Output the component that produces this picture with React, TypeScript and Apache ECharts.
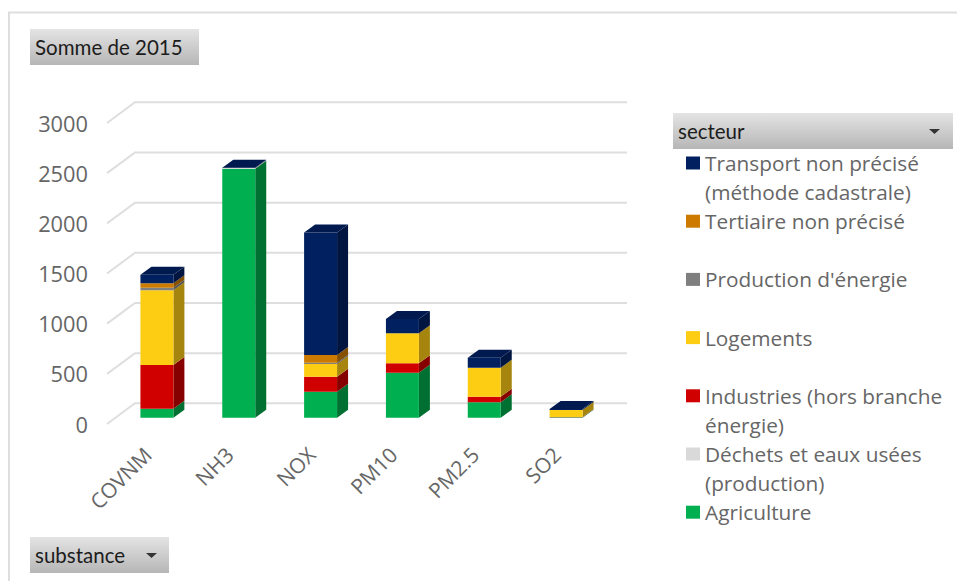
import React, { useEffect, useRef } from "react";
import * as echarts from "echarts";

const categories = ["COVNM", "NH3", "NOX", "PM10", "PM2.5", "SO2"];
const tickValues = [0, 500, 1000, 1500, 2000, 2500, 3000];

const agriculture = [90, 2480, 259, 449, 153, 5];
const dechets = [0, 8, 0, 0, 0, 0];
const industries = [435, 0, 150, 93, 56, 2];
const logements = [745, 0, 126, 299, 290, 70];
const production = [25, 0, 13, 0, 0, 0];
const tertiaire = [45, 0, 76, 0, 0, 0];
const transport = [85, 2, 1221, 143, 99, 10];

const sectors = [
  { name: "Agriculture", values: agriculture, color: "#00b050", side: "#007032" },
  { name: "Déchets et eaux usées\n(production)", values: dechets, color: "#d9d9d9", side: "#8f8f8f" },
  { name: "Industries (hors branche\nénergie)", values: industries, color: "#d00000", side: "#860000" },
  { name: "Logements", values: logements, color: "#fdcd14", side: "#a5850d" },
  { name: "Production d'énergie", values: production, color: "#7f7f7f", side: "#525252" },
  { name: "Tertiaire non précisé", values: tertiaire, color: "#cc7a00", side: "#855000" },
  { name: "Transport non précisé\n(méthode cadastrale)", values: transport, color: "#002060", side: "#001540" },
];

const BUTTON_FONT = "Lato";
const FONT = "Open Sans";
const DEPTH_BAR_X = 11;
const DEPTH_BAR_Y = 8;
const DEPTH_WALL_X = 28;
const DEPTH_WALL_Y = 20.7;

function button(x: number, y: number, w: number, label: string, arrowX?: number) {
  const els: any[] = [
    {
      type: "rect",
      shape: { x, y, width: w, height: 36 },
      style: {
        fill: new echarts.graphic.LinearGradient(0, 0, 0, 1, [
          { offset: 0, color: "#e4e4e4" },
          { offset: 1, color: "#b6b6b6" },
        ]),
      },
    },
    {
      type: "text",
      x: x + 5,
      y: y + 18,
      style: { text: label, fontFamily: BUTTON_FONT, fontSize: 20.5, fill: "#1c1c1c", verticalAlign: "middle" },
    },
  ];
  if (arrowX !== undefined) {
    els.push({
      type: "polygon",
      shape: { points: [[arrowX, y + 16], [arrowX + 11, y + 16], [arrowX + 5.5, y + 21]] },
      style: { fill: "#333333" },
    });
  }
  return els;
}

function legendItems() {
  const els: any[] = [];
  const top = 163;
  const step = 58.2;
  [...sectors].reverse().forEach((s, i) => {
    const y = top + step * i;
    els.push({
      type: "rect",
      shape: { x: 686, y: y - 6.5, width: 14, height: 13 },
      style: { fill: s.color },
    });
    els.push({
      type: "text",
      x: 705,
      y: y - 14.5,
      style: { text: s.name, fontFamily: FONT, fontSize: 20.8, lineHeight: 29, fill: "#666666", verticalAlign: "top" },
    });
  });
  return els;
}

export default function App() {
  const ref = useRef<HTMLDivElement>(null);
  useEffect(() => {
    const chart = echarts.init(ref.current!, undefined, { renderer: "svg" });

    const bases = categories.map(() => 0);
    const barSeries = sectors.map((s, si) => {
      const data = s.values.map((v, i) => {
        const start = bases[i];
        bases[i] += v;
        return [i, start, start + v];
      });
      const isTop = si === sectors.length - 1;
      return {
        type: "custom",
        name: s.name.replace("\n", " "),
        xAxisIndex: 0,
        yAxisIndex: 0,
        data,
        z: 3 + si,
        encode: { x: 0, y: [1, 2] },
        renderItem: (_p: any, api: any) => {
          const c = api.value(0);
          const a = api.coord([c, api.value(1)]);
          const b = api.coord([c, api.value(2)]);
          const w = api.size([1, 0])[0] * 0.403;
          const x0 = a[0] - w / 2;
          const x1 = a[0] + w / 2;
          const children: any[] = [];
          if (api.value(2) > api.value(1)) {
            children.push({
              type: "polygon",
              shape: { points: [[x1, a[1]], [x1 + DEPTH_BAR_X, a[1] - DEPTH_BAR_Y], [x1 + DEPTH_BAR_X, b[1] - DEPTH_BAR_Y], [x1, b[1]]] },
              style: { fill: s.side },
            });
            children.push({
              type: "rect",
              shape: { x: x0, y: b[1], width: w, height: a[1] - b[1] },
              style: { fill: s.color },
            });
          }
          if (isTop) {
            children.push({
              type: "polygon",
              shape: { points: [[x0, b[1]], [x1, b[1]], [x1 + DEPTH_BAR_X, b[1] - DEPTH_BAR_Y], [x0 + DEPTH_BAR_X, b[1] - DEPTH_BAR_Y]] },
              style: { fill: "#001a50" },
            });
          }
          return { type: "group", children };
        },
      };
    });

    const wallSeries = {
      type: "custom",
      name: "grille",
      xAxisIndex: 1,
      yAxisIndex: 1,
      silent: true,
      z: 1,
      data: tickValues.map((v) => [v]),
      encode: { y: 0 },
      renderItem: (_p: any, api: any) => {
        const v = api.value(0);
        const p = api.coord([0, v]);
        const q = api.coord([1, v]);
        return {
          type: "polyline",
          shape: { points: [p, [p[0] + DEPTH_WALL_X, p[1] - DEPTH_WALL_Y], [q[0], q[1] - DEPTH_WALL_Y]] },
          style: { stroke: "#dedede", lineWidth: 2, fill: "none" },
        };
      },
    };

    chart.setOption({
      animation: false,
      backgroundColor: "#ffffff",
      textStyle: { fontFamily: FONT },
      grid: [
        { left: 116, top: 116.7, width: 491, height: 301, containLabel: false },
        { left: 107, top: 123, width: 520, height: 301, containLabel: false },
      ],
      xAxis: [
        {
          type: "category",
          gridIndex: 0,
          data: categories,
          axisLine: { show: false },
          axisTick: { show: false },
          axisLabel: { rotate: 45, margin: 24, interval: 0, padding: [0, 13, 0, 0], fontFamily: FONT, fontSize: 21, color: "#666666" },
        },
        { type: "value", gridIndex: 1, min: 0, max: 1, show: false },
      ],
      yAxis: [
        { type: "value", gridIndex: 0, min: 0, max: 3000, show: false },
        {
          type: "value",
          gridIndex: 1,
          min: 0,
          max: 3000,
          interval: 500,
          axisLine: { show: false },
          axisTick: { show: false },
          splitLine: { show: false },
          axisLabel: { margin: 19, padding: [3, 0, 0, 0], fontFamily: FONT, fontSize: 21.8, color: "#666666", formatter: (v: number) => String(v) },
        },
      ],
      series: [wallSeries, ...barSeries],
      graphic: {
        elements: [
          {
            type: "polyline",
            shape: { points: [[9, 581], [9, 12.5], [957, 12.5]] },
            style: { stroke: "#dedede", lineWidth: 2, fill: "none" },
          },
          ...button(30, 29, 169, "Somme de 2015"),
          ...button(30, 537, 139, "substance", 146),
          ...button(673, 113, 280, "secteur", 929),
          ...legendItems(),
        ],
      },
    });
    return () => chart.dispose();
  }, []);
  return <div ref={ref} style={{ position: "absolute", left: 0, top: 0, width: 957, height: 581 }} />;
}
